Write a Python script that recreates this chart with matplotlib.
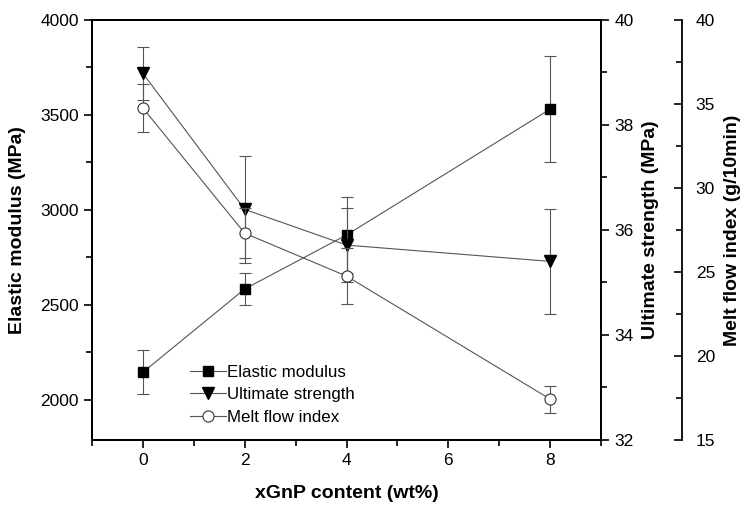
import numpy as np
import matplotlib
matplotlib.use("Agg")
import matplotlib.pyplot as plt
from matplotlib.ticker import MultipleLocator
from matplotlib.lines import Line2D

plt.rcParams["font.family"] = ["Liberation Sans", "DejaVu Sans"]

# Data
xgnp = [0, 2, 4, 8]
modulus = [2146, 2584, 2868, 3530]
modulus_err = [117, 85, 200, 280]
strength = [38.98, 36.39, 35.71, 35.40]
strength_err = [0.51, 1.02, 0.70, 1.00]
mfi = [34.75, 27.30, 24.75, 17.43]
mfi_err = [1.45, 1.50, 1.65, 0.80]

labels = ["Elastic modulus", "Ultimate strength", "Melt flow index"]

line_kw = dict(color="#555555", lw=0.8, ecolor="#555555", elinewidth=0.8,
               capsize=4, capthick=0.8)

fig = plt.figure(figsize=(7.42, 5.08), dpi=100)
ax1 = fig.add_axes([0.124, 0.134, 0.686, 0.827])
ax2 = ax1.twinx()
ax3 = ax1.twinx()
ax3.spines["right"].set_position(("axes", 1.159))

ax1.errorbar(xgnp, modulus, yerr=modulus_err, marker="s", ms=7.5,
             mfc="black", mec="black", **line_kw)
ax2.errorbar(xgnp, strength, yerr=strength_err, marker="v", ms=8.5,
             mfc="black", mec="black", **line_kw)
ax3.errorbar(xgnp, mfi, yerr=mfi_err, marker="o", ms=8,
             mfc="white", mec="#333333", mew=0.8, **line_kw)

ax1.set_xlim(-1, 9)
ax1.set_ylim(1790, 4000)
ax2.set_ylim(32, 40)
ax3.set_ylim(15, 40)

ax1.xaxis.set_major_locator(MultipleLocator(2))
ax1.xaxis.set_minor_locator(MultipleLocator(1))
ax1.yaxis.set_major_locator(MultipleLocator(500))
ax1.yaxis.set_minor_locator(MultipleLocator(250))
ax2.yaxis.set_major_locator(MultipleLocator(2))
ax2.yaxis.set_minor_locator(MultipleLocator(1))
ax3.yaxis.set_major_locator(MultipleLocator(5))
ax3.yaxis.set_minor_locator(MultipleLocator(2.5))

for ax in (ax1, ax2, ax3):
    for sp in ax.spines.values():
        sp.set_linewidth(1.3)
    ax.tick_params(which="major", length=6, width=1.2, labelsize=12.5)
    ax.tick_params(which="minor", length=4, width=1.2)
ax1.tick_params(axis="both", which="both", direction="out")
ax2.tick_params(axis="y", which="both", direction="out")
ax3.tick_params(axis="y", which="both", direction="in", pad=10)

ax1.set_xlabel("xGnP content (wt%)", fontsize=14, fontweight="bold", labelpad=12)
ax1.set_ylabel("Elastic modulus (MPa)", fontsize=14, fontweight="bold", labelpad=10)
ax2.set_ylabel("Ultimate strength (MPa)", fontsize=14, fontweight="bold", labelpad=6)
ax3.set_ylabel("Melt flow index (g/10min)", fontsize=14, fontweight="bold", labelpad=6)

# legend handles without error bars
handles = [
    Line2D([], [], color="#555555", lw=0.8, marker="s", ms=7.5, mfc="black", mec="black"),
    Line2D([], [], color="#555555", lw=0.8, marker="v", ms=8.5, mfc="black", mec="black"),
    Line2D([], [], color="#555555", lw=0.8, marker="o", ms=8, mfc="white", mec="#333333", mew=0.8),
]
ax3.legend(handles, labels, loc="upper left", bbox_to_anchor=(0.18, 0.195),
           frameon=False, fontsize=12.2, handlelength=2.1, handletextpad=0.05,
           labelspacing=0.45, borderaxespad=0)

fig.savefig("out.png", dpi=100)
